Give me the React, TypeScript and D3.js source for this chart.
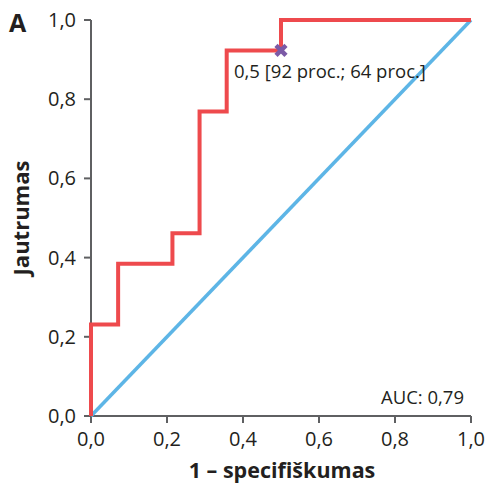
import React from "react";
import * as d3 from "d3";

// ROC curve coordinates (1 – specificity, sensitivity)
const fprValues = [0, 0, 0.0714, 0.2143, 0.2857, 0.3571, 0.5, 1.0];
const tprValues = [0, 0.2308, 0.3846, 0.4615, 0.7692, 0.9231, 1.0, 1.0];

// Reference (chance) diagonal
const diagX = [0, 1];
const diagY = [0, 1];

// Optimal cut-off point
const cutoffPoint = { fpr: 0.5, tpr: 0.9231 };
const cutoffLabel = "0,5 [92 proc.; 64 proc.]";
const aucLabel = "AUC: 0,79";

const tickValues = [0, 0.2, 0.4, 0.6, 0.8, 1.0];
const tickLabels = ["0,0", "0,2", "0,4", "0,6", "0,8", "1,0"];

const W = 489;
const H = 488;
const FONT = "'Open Sans', 'Noto Sans', sans-serif";
const TEXT = "#231f20";
const AXIS = "#5f6062";
const RED = "#ee4a4d";
const BLUE = "#5db5e6";
const PURPLE = "#7b5aa6";

export default function App() {
  const x = d3.scaleLinear().domain([0, 1]).range([91, 471]);
  const y = d3.scaleLinear().domain([0, 1]).range([416, 20]);

  const rocPts = fprValues.map((f, i) => [f, tprValues[i]] as [number, number]);
  const rocPath = d3
    .line<[number, number]>()
    .x((d) => x(d[0]))
    .y((d) => y(d[1]))
    .curve(d3.curveStepAfter)(rocPts)!;

  const diagPath = d3
    .line<[number, number]>()
    .x((d) => x(d[0]))
    .y((d) => y(d[1]))(diagX.map((v, i) => [v, diagY[i]] as [number, number]))!;

  const cx = x(cutoffPoint.fpr);
  const cy = y(cutoffPoint.tpr);
  const m = 5;

  return (
    <svg
      width={W}
      height={H}
      style={{ position: "absolute", left: 0, top: 0, background: "#fff" }}
      fontFamily={FONT}
    >
      {/* panel letter */}
      <text x={9} y={32} fontSize={25} fontWeight={700} fill={TEXT}>
        A
      </text>

      {/* axes */}
      <g stroke={AXIS} strokeWidth={2} fill="none">
        <line x1={x(0)} x2={x(0)} y1={y(1)} y2={y(0)} />
        <line x1={x(0)} x2={x(1)} y1={y(0)} y2={y(0)} />
        {tickValues.map((t) => (
          <line key={"yt" + t} x1={x(0) - 7} x2={x(0)} y1={y(t)} y2={y(t)} />
        ))}
        {tickValues.map((t) => (
          <line key={"xt" + t} x1={x(t)} x2={x(t)} y1={y(0)} y2={y(0) + 7} />
        ))}
      </g>

      {/* tick labels */}
      <g fontSize={20} fill={TEXT}>
        {tickValues.map((t, i) => (
          <text key={"yl" + t} x={76} y={y(t) + 7} textAnchor="end">
            {tickLabels[i]}
          </text>
        ))}
        {tickValues.map((t, i) => (
          <text key={"xl" + t} x={x(t)} y={446} textAnchor="middle">
            {tickLabels[i]}
          </text>
        ))}
      </g>

      {/* axis titles */}
      <text x={282} y={478} textAnchor="middle" fontSize={21.5} fontWeight={700} fill={TEXT}>
        1 – specifiškumas
      </text>
      <text
        transform={`translate(29,218) rotate(-90)`}
        textAnchor="middle"
        fontSize={22}
        fontWeight={700}
        fill={TEXT}
      >
        Jautrumas
      </text>

      {/* chance line */}
      <path d={diagPath} stroke={BLUE} strokeWidth={3.5} fill="none" />

      {/* ROC curve */}
      <path d={rocPath} stroke={RED} strokeWidth={4} fill="none" strokeLinejoin="miter" />

      {/* cut-off marker */}
      <g stroke={PURPLE} strokeWidth={4.5} strokeLinecap="butt">
        <line x1={cx - m} y1={cy - m} x2={cx + m} y2={cy + m} />
        <line x1={cx - m} y1={cy + m} x2={cx + m} y2={cy - m} />
      </g>
      <text x={234} y={78} fontSize={18.5} fill={TEXT}>
        {cutoffLabel}
      </text>

      <text x={464} y={404} textAnchor="end" fontSize={18.5} fill={TEXT}>
        {aucLabel}
      </text>
    </svg>
  );
}
